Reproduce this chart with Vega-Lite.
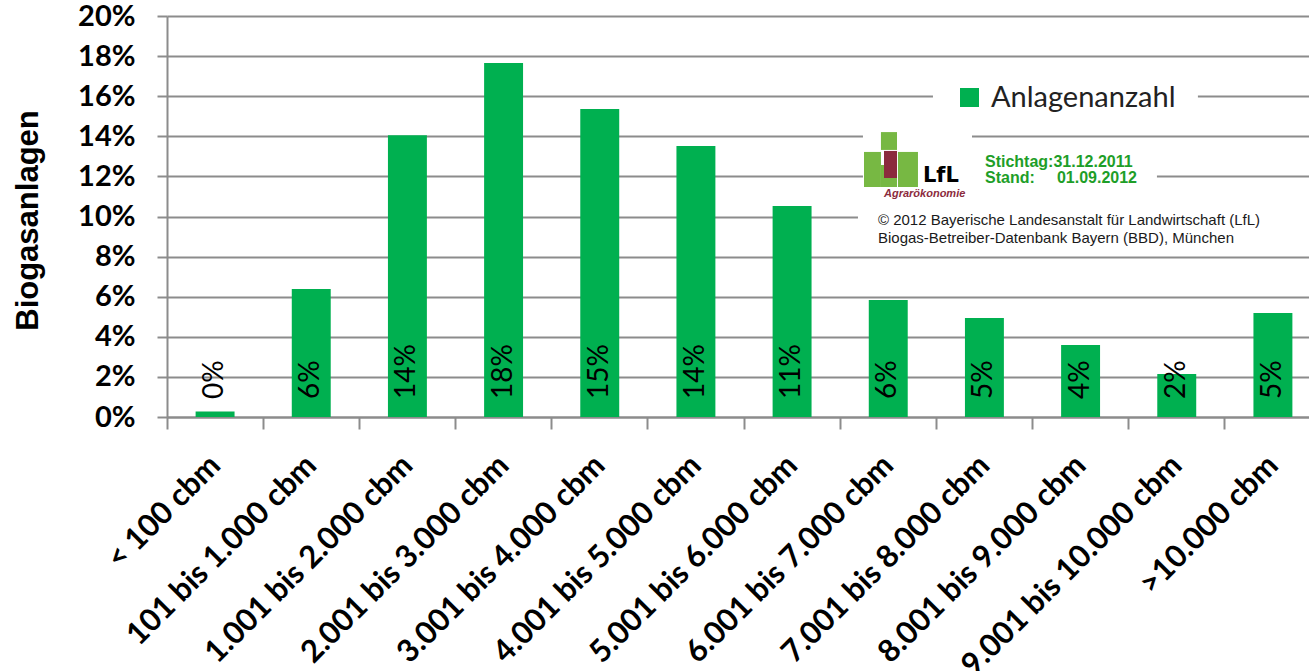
{
  "$schema": "https://vega.github.io/schema/vega-lite/v6.json",
  "width": 1142,
  "height": 401,
  "autosize": {"type": "none"},
  "padding": {"left": 167, "top": 16, "right": 0, "bottom": 254},
  "background": "white",
  "config": {"view": {"stroke": null}, "font": "Lato"},
  "resolve": {"scale": {"x": "independent", "y": "independent"}},
  "layer": [
    {
      "data": {
        "values": [
          {"Klasse": "< 100 cbm", "Anteil": 0.0027, "Serie": "Anlagenanzahl"},
          {"Klasse": "101 bis 1.000 cbm", "Anteil": 0.0638, "Serie": "Anlagenanzahl"},
          {"Klasse": "1.001 bis 2.000 cbm", "Anteil": 0.1405, "Serie": "Anlagenanzahl"},
          {"Klasse": "2.001 bis 3.000 cbm", "Anteil": 0.1766, "Serie": "Anlagenanzahl"},
          {"Klasse": "3.001 bis 4.000 cbm", "Anteil": 0.1536, "Serie": "Anlagenanzahl"},
          {"Klasse": "4.001 bis 5.000 cbm", "Anteil": 0.1352, "Serie": "Anlagenanzahl"},
          {"Klasse": "5.001 bis 6.000 cbm", "Anteil": 0.1052, "Serie": "Anlagenanzahl"},
          {"Klasse": "6.001 bis 7.000 cbm", "Anteil": 0.0584, "Serie": "Anlagenanzahl"},
          {"Klasse": "7.001 bis 8.000 cbm", "Anteil": 0.0494, "Serie": "Anlagenanzahl"},
          {"Klasse": "8.001 bis 9.000 cbm", "Anteil": 0.0359, "Serie": "Anlagenanzahl"},
          {"Klasse": "9.001 bis 10.000 cbm", "Anteil": 0.0214, "Serie": "Anlagenanzahl"},
          {"Klasse": ">10.000 cbm", "Anteil": 0.0519, "Serie": "Anlagenanzahl"}
        ]
      },
      "layer": [
        {
          "mark": {"type": "bar", "width": {"band": 0.405}},
          "encoding": {
            "x": {
              "field": "Klasse", "type": "nominal", "sort": null,
              "scale": {"type": "band", "range": [0, 1154], "paddingInner": 0, "paddingOuter": 0},
              "axis": {
                "title": null, "bandPosition": 0,
                "domainColor": "#8c8c8c", "domainWidth": 2,
                "tickColor": "#8c8c8c", "tickWidth": 2, "tickSize": 12,
                "labelAngle": -45, "labelAlign": "right", "labelBaseline": "top",
                "labelFont": "Lato", "labelFontWeight": "bold", "labelFontSize": 31,
                "labelColor": "black", "labelPadding": 21, "labelOffset": -10,
                "labelOverlap": false, "labelLimit": 1000, "labelBound": false
              }
            },
            "y": {
              "field": "Anteil", "type": "quantitative",
              "scale": {"domain": [0, 0.2], "nice": false},
              "axis": {
                "title": "Biogasanlagen", "titleFont": "Liberation Sans", "titleFontSize": 31,
                "titleFontWeight": "bold", "titleColor": "black", "titleAngle": -90,
                "titleAlign": "center", "titleBaseline": "alphabetic", "titleX": -130, "titleY": 204,
                "values": [0, 0.02, 0.04, 0.06, 0.08, 0.1, 0.12, 0.14, 0.16, 0.18, 0.2],
                "format": ".0%",
                "labelFont": "Lato", "labelFontWeight": "bold", "labelFontSize": 29,
                "labelColor": "black", "labelPadding": 22,
                "tickSize": 10, "tickColor": "#8c8c8c", "tickWidth": 2,
                "domainColor": "#8c8c8c", "domainWidth": 2,
                "grid": true, "gridColor": "#8c8c8c", "gridWidth": 2
              }
            },
            "color": {
              "field": "Serie", "type": "nominal",
              "scale": {"domain": ["Anlagenanzahl"], "range": ["#00b050"]},
              "legend": {
                "orient": "none", "legendX": 788, "legendY": 67, "title": null,
                "symbolType": "square", "symbolSize": 361, "symbolStrokeWidth": 0,
                "labelFont": "Lato", "labelFontSize": 29, "labelColor": "#222222",
                "labelOffset": 7, "labelLimit": 400, "padding": 0
              }
            }
          }
        },
        {
          "mark": {"type": "text", "angle": 270, "align": "left", "baseline": "middle", "dx": 18, "font": "Lato", "fontSize": 28, "color": "black"},
          "encoding": {
            "x": {"field": "Klasse", "type": "nominal", "sort": null},
            "y": {"datum": 0, "type": "quantitative"},
            "text": {"field": "Anteil", "type": "quantitative", "format": ".0%"}
          }
        }
      ]
    },
    {
      "data": {"values": [{}]},
      "layer": [
        {"mark": {"type": "rect", "fill": "white"}, "encoding": {"x": {"datum": 7.965, "type": "quantitative", "scale": {"domain": [0, 12], "range": [0, 1154], "nice": false, "zero": false}, "axis": null}, "x2": {"datum": 10.72}, "y": {"datum": 0.1656, "type": "quantitative", "scale": {"domain": [0, 0.2], "nice": false}, "axis": null}, "y2": {"datum": 0.1526}}},
        {"mark": {"type": "rect", "fill": "white"}, "encoding": {"x": {"datum": 7.237, "type": "quantitative", "axis": null}, "x2": {"datum": 8.371}, "y": {"datum": 0.1431, "type": "quantitative", "axis": null}, "y2": {"datum": 0.1107}}},
        {"mark": {"type": "rect", "fill": "white"}, "encoding": {"x": {"datum": 8.371, "type": "quantitative", "axis": null}, "x2": {"datum": 10.294}, "y": {"datum": 0.1357, "type": "quantitative", "axis": null}, "y2": {"datum": 0.1122}}},
        {"mark": {"type": "rect", "fill": "white"}, "encoding": {"x": {"datum": 7.185, "type": "quantitative", "axis": null}, "x2": {"datum": 12}, "y": {"datum": 0.1082, "type": "quantitative", "axis": null}, "y2": {"datum": 0.0818}}},
        {"mark": {"type": "rect", "fill": "#77b843"}, "encoding": {"x": {"datum": 7.248, "type": "quantitative", "axis": null}, "x2": {"datum": 7.424}, "y": {"datum": 0.1322, "type": "quantitative", "axis": null}, "y2": {"datum": 0.1147}}},
        {"mark": {"type": "rect", "fill": "#77b843"}, "encoding": {"x": {"datum": 7.424, "type": "quantitative", "axis": null}, "x2": {"datum": 7.591}, "y": {"datum": 0.1421, "type": "quantitative", "axis": null}, "y2": {"datum": 0.1332}}},
        {"mark": {"type": "rect", "fill": "#77b843"}, "encoding": {"x": {"datum": 7.424, "type": "quantitative", "axis": null}, "x2": {"datum": 7.591}, "y": {"datum": 0.1257, "type": "quantitative", "axis": null}, "y2": {"datum": 0.1147}}},
        {"mark": {"type": "rect", "fill": "#8b2b3d"}, "encoding": {"x": {"datum": 7.456, "type": "quantitative", "axis": null}, "x2": {"datum": 7.591}, "y": {"datum": 0.1327, "type": "quantitative", "axis": null}, "y2": {"datum": 0.1192}}},
        {"mark": {"type": "rect", "fill": "#77b843"}, "encoding": {"x": {"datum": 7.601, "type": "quantitative", "axis": null}, "x2": {"datum": 7.809}, "y": {"datum": 0.1322, "type": "quantitative", "axis": null}, "y2": {"datum": 0.1147}}},
        {"mark": {"type": "text", "text": "LfL", "font": "DejaVu Sans", "fontWeight": "bold", "fontSize": 21, "color": "black", "align": "left", "baseline": "alphabetic"}, "encoding": {"x": {"datum": 7.861, "type": "quantitative", "axis": null}, "y": {"datum": 0.1172, "type": "quantitative", "axis": null}}},
        {"mark": {"type": "text", "text": "Agrarökonomie", "font": "Liberation Sans", "fontWeight": "bold", "fontStyle": "italic", "fontSize": 11, "color": "#8b2b3d", "align": "left", "baseline": "alphabetic"}, "encoding": {"x": {"datum": 7.456, "type": "quantitative", "axis": null}, "y": {"datum": 0.1097, "type": "quantitative", "axis": null}}},
        {"mark": {"type": "text", "text": "Stichtag:31.12.2011", "font": "Liberation Sans", "fontWeight": "bold", "fontSize": 16, "color": "#1e9e28", "align": "left", "baseline": "alphabetic"}, "encoding": {"x": {"datum": 8.506, "type": "quantitative", "axis": null}, "y": {"datum": 0.1247, "type": "quantitative", "axis": null}}},
        {"mark": {"type": "text", "text": "Stand:", "font": "Liberation Sans", "fontWeight": "bold", "fontSize": 16, "color": "#1e9e28", "align": "left", "baseline": "alphabetic"}, "encoding": {"x": {"datum": 8.506, "type": "quantitative", "axis": null}, "y": {"datum": 0.1167, "type": "quantitative", "axis": null}}},
        {"mark": {"type": "text", "text": "01.09.2012", "font": "Liberation Sans", "fontWeight": "bold", "fontSize": 16, "color": "#1e9e28", "align": "left", "baseline": "alphabetic"}, "encoding": {"x": {"datum": 9.254, "type": "quantitative", "axis": null}, "y": {"datum": 0.1167, "type": "quantitative", "axis": null}}},
        {"mark": {"type": "text", "text": "© 2012 Bayerische Landesanstalt für Landwirtschaft (LfL)", "font": "Liberation Sans", "fontSize": 15, "color": "#1a1a1a", "align": "left", "baseline": "alphabetic"}, "encoding": {"x": {"datum": 7.393, "type": "quantitative", "axis": null}, "y": {"datum": 0.0958, "type": "quantitative", "axis": null}}},
        {"mark": {"type": "text", "text": "Biogas-Betreiber-Datenbank Bayern (BBD), München", "font": "Liberation Sans", "fontSize": 15, "color": "#1a1a1a", "align": "left", "baseline": "alphabetic"}, "encoding": {"x": {"datum": 7.393, "type": "quantitative", "axis": null}, "y": {"datum": 0.0868, "type": "quantitative", "axis": null}}}
      ]
    }
  ]
}
